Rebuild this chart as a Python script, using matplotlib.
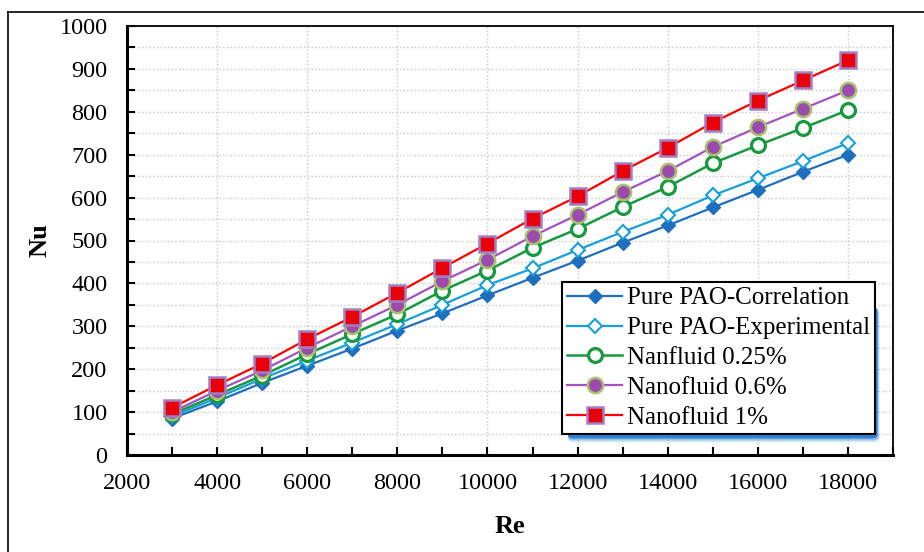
import matplotlib
matplotlib.use("Agg")
import matplotlib.pyplot as plt
from matplotlib.ticker import MultipleLocator
from matplotlib.patches import FancyBboxPatch
from matplotlib.lines import Line2D

re_vals = [3000, 4000, 5000, 6000, 7000, 8000, 9000, 10000, 11000, 12000,
           13000, 14000, 15000, 16000, 17000, 18000]
nu_corr = [85, 125, 168, 208, 248, 290, 330, 372, 413, 453, 495, 535, 577, 618, 660, 700]
nu_exp = [90, 133, 178, 220, 262, 305, 350, 396, 435, 478, 520, 560, 605, 645, 685, 727]
nu_025 = [95, 140, 185, 235, 282, 328, 383, 430, 483, 527, 578, 625, 680, 722, 762, 804]
nu_06 = [100, 150, 197, 250, 300, 350, 405, 455, 510, 560, 613, 662, 718, 764, 807, 850]
nu_1 = [110, 163, 213, 270, 322, 378, 436, 493, 551, 603, 662, 716, 775, 826, 873, 920]

labels = ["Pure PAO-Correlation", "Pure PAO-Experimental", "Nanfluid 0.25%",
          "Nanofluid 0.6%", "Nanofluid 1%"]

plt.rcParams['font.family'] = ['Liberation Serif', 'DejaVu Serif']

fig = plt.figure(figsize=(9.24, 5.52), dpi=100)
ax = fig.add_axes([127/924, 1-455/552, (893-127)/924, (455-26)/552])

ax.plot(re_vals, nu_corr, color='#1F6FBF', lw=1.6, marker='D', ms=7,
        mfc='#1F6FBF', mec='#1F6FBF', label=labels[0], zorder=3)
ax.plot(re_vals, nu_exp, color='#159FDB', lw=1.6, marker='D', ms=7,
        mfc='white', mec='#159FDB', mew=1.5, label=labels[1], zorder=4)
ax.plot(re_vals, nu_025, color='#17993F', lw=1.8, marker='o', ms=10,
        mfc='white', mec='#17993F', mew=2.3, label=labels[2], zorder=5)
ax.plot(re_vals, nu_06, color='#A552C0', lw=1.6, marker='o', ms=11,
        mfc='#9B4AAE', mec='#A8C070', mew=1.8, label=labels[3], zorder=6)
ax.plot(re_vals, nu_1, color='#FF0000', lw=1.6, marker='s', ms=11,
        mfc='#E8000A', mec='#A27FC2', mew=1.8, label=labels[4], zorder=7)

ax.set_xlim(2000, 19000)
ax.set_ylim(0, 1000)
ax.xaxis.set_major_locator(MultipleLocator(2000))
ax.xaxis.set_minor_locator(MultipleLocator(1000))
ax.yaxis.set_major_locator(MultipleLocator(100))
ax.yaxis.set_minor_locator(MultipleLocator(50))
ax.grid(True, which='major', axis='x', color='#C8C8C8', ls=':', lw=1.0)
ax.grid(True, which='both', axis='y', color='#C8C8C8', ls=':', lw=1.0)
ax.set_axisbelow(True)

ax.tick_params(which='both', direction='in', length=6, width=1.5, labelsize=17.5)
ax.tick_params(axis='x', pad=13)
ax.tick_params(axis='y', pad=14)
ax.set_xticklabels([f"{int(v)}" for v in ax.get_xticks()])

for s in ['left', 'bottom']:
    ax.spines[s].set_linewidth(2.2)
for s in ['top', 'right']:
    ax.spines[s].set_linewidth(1.3)

ax.set_xlabel('Re', fontsize=19, fontweight='bold', labelpad=15)
ax.set_ylabel('Nu', fontsize=19, fontweight='bold', labelpad=6)

leg = ax.legend(loc='upper left', bbox_to_anchor=((562-127)/766, (455-282)/429),
                fontsize=18, frameon=True, fancybox=False, edgecolor='black',
                framealpha=1, borderpad=0.2, labelspacing=0.29, handlelength=2.2,
                handletextpad=0.2, borderaxespad=0)
leg.get_frame().set_linewidth(1.5)
leg.set_zorder(20)

# legend shadow glow, placed from the legend's drawn extent
fig.canvas.draw()
bb = leg.get_window_extent().transformed(fig.transFigure.inverted())
for off, a in [(9, 0.15), (7, 0.35), (5, 0.85)]:
    shadow = FancyBboxPatch((bb.x0 + 6/924, bb.y0 - off/552),
                            bb.width - 6/924 + off * 0.5/924, bb.height - 20/552,
                            boxstyle='round,pad=0.0,rounding_size=0.006',
                            transform=fig.transFigure, facecolor='#1A78CC',
                            edgecolor='none', alpha=a, zorder=19, clip_on=False)
    ax.add_patch(shadow)

# outer frame lines (top and left)
fig.add_artist(Line2D([8/924, 8/924], [0, 1-12/552], transform=fig.transFigure, color='black', lw=1.2))
fig.add_artist(Line2D([8/924, 1], [1-12/552, 1-12/552], transform=fig.transFigure, color='black', lw=1.2))

fig.savefig('out.png', dpi=100)
